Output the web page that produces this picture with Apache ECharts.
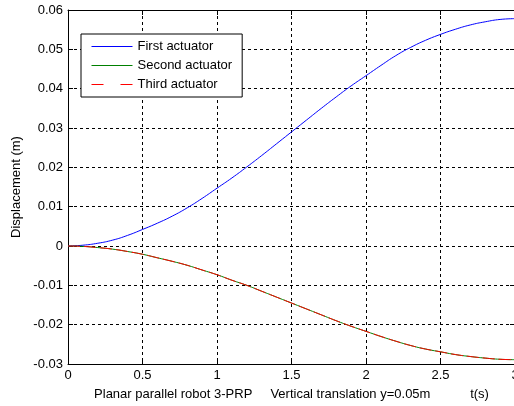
<!DOCTYPE html>
<html>
<head>
<meta charset="utf-8">
<script src="https://cdn.jsdelivr.net/npm/echarts@6/dist/echarts.min.js"></script>
<style>
html,body{margin:0;padding:0;background:#fff;}
#main{width:514px;height:406px;}
</style>
</head>
<body>
<div id="main"></div>
<script>
// time samples (s)
var times = [0,0.1,0.2,0.3,0.4,0.5,0.6,0.7,0.8,0.9,1.0,1.1,1.2,1.3,1.4,1.5,1.6,1.7,1.8,1.9,2.0,2.1,2.2,2.3,2.4,2.5,2.6,2.7,2.8,2.9,3.0];
// displacement (m)
var firstActuator = [0,0.0002,0.0007,0.0015,0.0027,0.0042,0.0058,0.0076,0.0097,0.0121,0.0147,0.0173,0.0201,0.0230,0.0260,0.0290,0.0320,0.0350,0.0379,0.0407,0.0433,0.0459,0.0484,0.0505,0.0523,0.0538,0.0551,0.0562,0.0570,0.0576,0.0578];
var secondActuator = [0,-0.0001,-0.0004,-0.0008,-0.0014,-0.0021,-0.0030,-0.0039,-0.0049,-0.0061,-0.0073,-0.0087,-0.0100,-0.0115,-0.0130,-0.0145,-0.0160,-0.0175,-0.0190,-0.0204,-0.0217,-0.0230,-0.0242,-0.0253,-0.0262,-0.0269,-0.0276,-0.0281,-0.0285,-0.0288,-0.0289];
var thirdActuator = [0,-0.0001,-0.0004,-0.0008,-0.0014,-0.0021,-0.0030,-0.0039,-0.0049,-0.0061,-0.0073,-0.0087,-0.0100,-0.0115,-0.0130,-0.0145,-0.0160,-0.0175,-0.0190,-0.0204,-0.0217,-0.0230,-0.0242,-0.0253,-0.0262,-0.0269,-0.0276,-0.0281,-0.0285,-0.0288,-0.0289];
var seriesNames = ['First actuator','Second actuator','Third actuator'];

function pairs(vals) {
	var out = [];
	for (var i=0;i<times.length;i++) {
		out.push([times[i], vals[i]]);
	}
	return out;
}

var font = 'Liberation Sans, Arial, sans-serif';
var gridDash = {show:true, lineStyle:{color:'#000', type:[3,3], width:1}};

var myChart = echarts.init(document.getElementById('main'), null, {renderer:'canvas'});

var option = {
	backgroundColor: '#fff',
	animation: false,
	textStyle: {fontFamily: font, color:'#000'},
	grid: {left:68, top:10, right:-1, bottom:42, outerBoundsMode:'none', containLabel:false},
	legend: {
		orient: 'vertical',
		left: 81,
		top: 34,
		padding: [6,10,6,10],
		itemWidth: 41,
		itemHeight: 12,
		itemGap: 6,
		backgroundColor: '#fff',
		borderColor: '#000',
		borderWidth: 1,
		borderRadius: 0,
		itemStyle: {opacity: 0},
		lineStyle: {width: 1},
		textStyle: {fontFamily: font, fontSize:13, color:'#000'},
		data: [
			{name: seriesNames[0]},
			{name: seriesNames[1]},
			{name: seriesNames[2], lineStyle:{width:1, type:[12,17]}}
		]
	},
	xAxis: [
		{
			type: 'value', min:0, max:3, interval:0.5,
			name: 'Planar parallel robot 3-PRP     Vertical translation y=0.05m           t(s)',
			nameLocation: 'middle', nameGap: 24,
			nameTextStyle: {fontFamily: font, fontSize:13, color:'#000'},
			axisLine: {show:true, onZero:false, lineStyle:{color:'#000', width:1}},
			axisTick: {show:true, inside:true, length:5, lineStyle:{color:'#000'}},
			axisLabel: {fontFamily: font, fontSize:13, color:'#000', margin:5},
			splitLine: gridDash
		},
		{
			type: 'value', min:0, max:3, interval:0.5, position:'top',
			axisLine: {show:true, onZero:false, lineStyle:{color:'#000', width:1}},
			axisTick: {show:true, inside:true, length:5, lineStyle:{color:'#000'}},
			axisLabel: {show:false},
			splitLine: {show:false}
		}
	],
	yAxis: [
		{
			type: 'value', min:-0.03, max:0.06, interval:0.01,
			name: 'Displacement (m)',
			nameLocation: 'middle', nameGap: 37, nameRotate: 90,
			nameTextStyle: {fontFamily: font, fontSize:13, color:'#000'},
			axisLine: {show:true, onZero:false, lineStyle:{color:'#000', width:1}},
			axisTick: {show:true, inside:true, length:5, lineStyle:{color:'#000'}},
			axisLabel: {fontFamily: font, fontSize:13, color:'#000', margin:5},
			splitLine: gridDash
		},
		{
			type: 'value', min:-0.03, max:0.06, interval:0.01, position:'right',
			axisLine: {show:true, onZero:false, lineStyle:{color:'#000', width:1}},
			axisTick: {show:true, inside:true, length:5, lineStyle:{color:'#000'}},
			axisLabel: {show:false},
			splitLine: {show:false}
		}
	],
	series: [
		{
			name: seriesNames[0], type:'line', symbol:'none', smooth:true,
			data: pairs(firstActuator),
			lineStyle: {color:'#0000ff', width:1},
			itemStyle: {color:'#0000ff'}
		},
		{
			name: seriesNames[1], type:'line', symbol:'none', smooth:true,
			data: pairs(secondActuator),
			lineStyle: {color:'#008000', width:1},
			itemStyle: {color:'#008000'}
		},
		{
			name: seriesNames[2], type:'line', symbol:'none', smooth:true,
			data: pairs(thirdActuator),
			lineStyle: {color:'#ff0000', width:1, type:[12,4]},
			itemStyle: {color:'#ff0000'}
		}
	]
};

myChart.setOption(option);
</script>
</body>
</html>
